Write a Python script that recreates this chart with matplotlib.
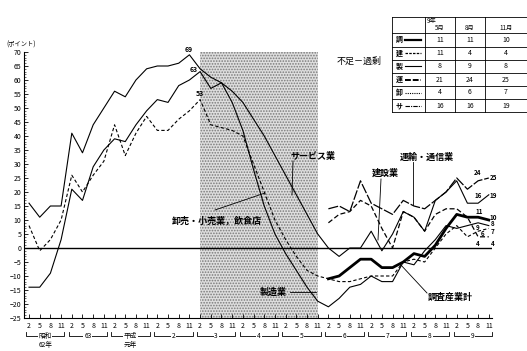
import numpy as np
import matplotlib.pyplot as plt

plt.rcParams['font.family'] = ['Noto Sans CJK JP', 'DejaVu Sans']
plt.rcParams['hatch.linewidth'] = 0.8

# 四半期: 昭和62年2月 ～ 平成9年11月
years = ['昭和', '63', '平成', '2', '3', '4', '5', '6', '7', '8', '9']
years2 = ['62年', '', '元年', '', '', '', '', '', '', '', '']
months = ['2', '5', '8', '11']
nan = np.nan

service = [16, 11, 15, 15, 41, 34, 44, 50, 56, 54, 60, 64, 65, 65, 66, 69,
           64, 61, 59, 56, 52, 46, 40, 33, 26, 19, 12, 5,
           0, -3, 0, 0, 6, -1, 5, 13, 11, 6, 17, 20, 24, 16, 16, 19]
manuf = [-14, -14, -9, 3, 21, 17, 29, 35, 39, 38, 44, 49, 53, 52, 58, 60,
         63, 57, 59, 52, 42, 28, 15, 5, -2, -8, -14, -19,
         -21, -18, -14, -13, -10, -12, -12, -5, -6, -1, 3, 8, 7, 8, 9, 8]
whole = [8, -1, 3, 10, 26, 20, 26, 31, 44, 33, 41, 47, 42, 42, 46, 49,
         53, 44, 43, 42, 40, 30, 20, 10, 3, -3, -8, -10,
         -11, -12, -12, -11, -10, -10, -10, -5, -4, -5, 0, 5, 8, 4, 6, 7]
total = [nan] * 28 + [-11, -10, -7, -4, -4, -7, -7, -5, -2, -3, 1, 7, 12, 11, 11, 10]
constr = [nan] * 28 + [9, 12, 13, 17, 15, 7, 0, 13, 11, 6, 12, 14, 14, 11, 4, 4]
trans = [nan] * 28 + [14, 15, 13, 24, 16, 14, 12, 17, 15, 14, 17, 20, 25, 21, 24, 25]

tbl_rows = ['調', '建', '製', '運', '卸', 'サ']
tbl_cols = ['5月', '8月', '11月']
tbl_vals = [[11, 11, 10], [11, 4, 4], [8, 9, 8], [21, 24, 25], [4, 6, 7], [16, 16, 19]]

W, H = 527, 351
fig = plt.figure(figsize=(W / 100, H / 100), dpi=100)
ax = fig.add_axes([24 / W, 1 - 318 / H, (492 - 24) / W, (318 - 52) / H])

def P(x, y):
    return (x / W, 1 - y / H)

q = np.arange(len(service))
ax.axvspan(16, 27, ymin=0, ymax=1, facecolor='#dedede', edgecolor='#7a7a7a',
           hatch='......', lw=0, zorder=0)
ax.axhline(0, color='k', lw=1.0, zorder=1)

ax.plot(q, service, color='k', lw=0.8)
ax.plot(q, manuf, color='k', lw=0.8)
ax.plot(q, whole, color='k', lw=0.8, ls=(0, (3, 2)))
ax.plot(q, total, color='k', lw=2.0)
ax.plot(q, constr, color='k', lw=0.9, ls=(0, (4, 2)))
ax.plot(q, trans, color='k', lw=0.9, ls=(0, (8, 1.5)))

ax.set_xlim(-0.47, 43.3)
ax.set_ylim(-25, 70)
ax.set_yticks(np.arange(-25, 71, 5))
ax.set_yticks(np.arange(-25, 71, 1), minor=True)
ax.set_xticks(q)
ax.set_xticklabels(months * len(years))
ax.tick_params(axis='both', direction='in', labelsize=5, length=3, width=0.6, pad=2)
ax.tick_params(axis='x', pad=3)
ax.tick_params(axis='y', which='minor', direction='in', length=1.5, width=0.4)
for s in ['top', 'right']:
    ax.spines[s].set_visible(False)
ax.spines['left'].set_linewidth(0.8)
ax.spines['bottom'].set_linewidth(0.8)

fig.text(*P(6, 45), '(ポイント)', fontsize=4.5, va='center', ha='left')

# 年の括弧
xt = ax.get_xaxis_transform()
for i, (y1, y2) in enumerate(zip(years, years2)):
    a, b = i * 4 - 0.3, i * 4 + 3.3
    yb = -(336 - 318) / 266
    ax.plot([a, a, b, b], [yb + 0.015, yb, yb, yb + 0.015], color='k', lw=0.6,
            transform=xt, clip_on=False)
    ax.text((a + b) / 2, yb, y1, fontsize=4.8, ha='center', va='center',
            transform=xt, bbox=dict(facecolor='white', edgecolor='none', pad=0.6))
    if y2:
        ax.text((a + b) / 2, -(345 - 318) / 266, y2, fontsize=4.8, ha='center',
                va='center', transform=xt)

# ピーク値
for x, y, s in [(189, 49, '69'), (194, 69, '63'), (200, 94, '53')]:
    fig.text(*P(x, y), s, fontsize=5, ha='center', va='center', fontweight='bold')

# 系列名
lab = dict(fontsize=6.5, fontweight='bold', va='center', ha='left')
fig.text(*P(290, 156), 'サービス業', **lab)
fig.text(*P(372, 173), '建設業', **lab)
fig.text(*P(400, 157), '運輸・通信業', **lab)
fig.text(*P(172, 221), '卸売・小売業，飲食店', **lab)
fig.text(*P(260, 292), '製造業', **lab)
fig.text(*P(428, 297), '調査産業計', **lab)
fig.text(*P(337, 61), '不足－過剰', fontsize=6.5, va='center', ha='left')

for (x1, y1), (x2, y2) in [((293, 161), (292, 195)), ((215, 210), (265, 193)),
                           ((290, 292), (316, 292)), ((381, 179), (378, 240)),
                           ((413, 162), (413, 205)), ((427, 293), (400, 264))]:
    fig.add_artist(plt.Line2D([x1 / W, x2 / W], [1 - y1 / H, 1 - y2 / H],
                              color='k', lw=0.6))

# 末尾の値
for x, y, s in [(478, 173, '24'), (493, 177, '25'), (478, 196, '16'), (493, 195, '19'),
                (479, 211, '11'), (493, 217, '10'), (478, 228, '9'), (493, 224, '8'),
                (493, 231, '7'), (483, 233, '6'), (478, 243, '4'), (493, 243, '4')]:
    fig.text(*P(x, y), s, fontsize=4.5, ha='center', va='center', fontweight='bold')

# 右上の表
xs = [392, 425, 455, 485, 527]
ys = [17, 33, 46.5, 59.5, 73, 86, 99, 112]
for y in ys:
    fig.add_artist(plt.Line2D([xs[0] / W, 1], [1 - y / H, 1 - y / H], color='k', lw=0.6))
for x in xs[:-1]:
    fig.add_artist(plt.Line2D([x / W, x / W], [1 - ys[0] / H, 1 - ys[-1] / H], color='k', lw=0.6))
fig.text(*P(427, 21), '9年', fontsize=4.5, va='center', ha='left')
for j, c in enumerate(tbl_cols):
    fig.text(*P((xs[j + 1] + xs[j + 2]) / 2, 28), c, fontsize=4.5, ha='center', va='center')
styles = ['-', (0, (2, 1)), '-', (0, (3, 1)), (0, (1, 1)), (0, (4, 1, 1, 1))]
widths = [1.6, 0.9, 0.8, 1.4, 0.8, 0.8]
for i, r in enumerate(tbl_rows):
    yc = (ys[i + 1] + ys[i + 2]) / 2
    fig.text(*P(396, yc), r, fontsize=5, ha='left', va='center', fontweight='bold')
    fig.add_artist(plt.Line2D([405 / W, 421 / W], [1 - yc / H, 1 - yc / H], color='k',
                              lw=widths[i], ls=styles[i]))
    for j, v in enumerate(tbl_vals[i]):
        fig.text(*P((xs[j + 1] + xs[j + 2]) / 2, yc), str(v), fontsize=5,
                 ha='center', va='center')

fig.savefig('out.png', dpi=100)
